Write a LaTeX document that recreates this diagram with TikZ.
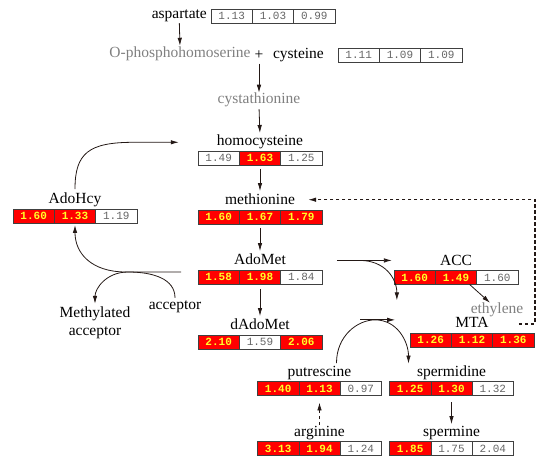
\documentclass[tikz,border=0pt]{standalone}
\usepackage{fontspec}
\setmainfont{Liberation Serif}
\newfontfamily\valfont{Liberation Mono}
\usetikzlibrary{arrows.meta,positioning}
\definecolor{pathred}{RGB}{255,0,0}
\definecolor{valyel}{RGB}{255,255,40}
\definecolor{arrdark}{RGB}{35,24,21}
\definecolor{labgray}{RGB}{128,128,128}
\tikzset{
  lbl/.style={inner sep=0pt, font=\fontsize{15.5}{18}\selectfont},
  tag/.style={lbl, anchor=base},
  glbl/.style={lbl, text=labgray},
  cell/.style={draw=black!75, minimum width=41.3pt, minimum height=14pt,
               inner sep=0pt, outer sep=0pt},
  up/.style={cell, fill=pathred, text=valyel,
             font=\valfont\bfseries\fontsize{11}{11}\selectfont},
  nc/.style={cell, fill=white, text=black!60,
             font=\valfont\fontsize{11}{11}\selectfont},
  rxn/.style={-{Latex[length=8pt,width=4.5pt]}, arrdark, line width=0.8pt},
  feedback/.style={rxn, dash pattern=on 3.5pt off 2.5pt, line width=1.1pt},
}
% three fold-change cells, #2 = centre of the middle cell
\newcommand\valrow[8]{%
  \node[#5] (#1-2) at (#2) {#6};
  \node[#3, left=0pt of #1-2] (#1-1) {#4};
  \node[#7, right=0pt of #1-2] (#1-3) {#8};
}
\begin{document}
\begin{tikzpicture}[x=1pt,y=-1pt]
  \useasboundingbox (0,0) rectangle (550,468);

  % value boxes
  \valrow{asp}{273,16}{nc}{1.13}{nc}{1.03}{nc}{0.99}
  \valrow{cys}{400,55}{nc}{1.11}{nc}{1.09}{nc}{1.09}
  \valrow{hcy}{260,158}{nc}{1.49}{up}{1.63}{nc}{1.25}
  \valrow{met}{260,217}{up}{1.60}{up}{1.67}{up}{1.79}
  \valrow{ahc}{75,216}{up}{1.60}{up}{1.33}{nc}{1.19}
  \valrow{sam}{260,277}{up}{1.58}{up}{1.98}{nc}{1.84}
  \valrow{dsam}{260,342}{up}{2.10}{nc}{1.59}{up}{2.06}
  \valrow{acc}{456,277.5}{up}{1.60}{up}{1.49}{nc}{1.60}
  \valrow{mta}{472,340}{up}{1.26}{up}{1.12}{up}{1.36}
  \valrow{put}{319.5,388.5}{up}{1.40}{up}{1.13}{nc}{0.97}
  \valrow{spd}{451.5,388.5}{up}{1.25}{up}{1.30}{nc}{1.32}
  \valrow{arg}{319.5,448.5}{up}{3.13}{up}{1.94}{nc}{1.24}
  \valrow{spm}{451.5,448.5}{up}{1.85}{nc}{1.75}{nc}{2.04}

  % metabolite names
  \node[lbl, left=4pt of asp-1] (asp) {aspartate};
  \node[glbl] (ophs) at (180,54) {O-phosphohomoserine};
  \node[lbl] (plus) at (259,55) {+};
  \node[lbl, left=14pt of cys-1] (cys) {cysteine};
  \node[glbl] (cth) at (259,100) {cystathionine};
  \node[tag] (hcy) at ([yshift=5pt]hcy-2.north) {homocysteine};
  \node[tag] (met) at ([yshift=5pt]met-2.north) {methionine};
  \node[tag] (ahc) at ([yshift=5pt]ahc-2.north) {AdoHcy};
  \node[tag] (sam) at ([yshift=5pt]sam-2.north) {AdoMet};
  \node[tag] (dsam) at ([yshift=5pt]dsam-2.north) {dAdoMet};
  \node[tag] (acc) at ([yshift=5pt]acc-2.north) {ACC};
  \node[tag] (mta) at ([yshift=5pt]mta-2.north) {MTA};
  \node[glbl] (eth) at (497,310) {ethylene};
  \node[tag] (put) at ([yshift=5pt]put-2.north) {putrescine};
  \node[tag] (spd) at ([yshift=5pt]spd-2.north) {spermidine};
  \node[tag] (arg) at ([yshift=5pt]arg-2.north) {arginine};
  \node[tag] (spm) at ([yshift=5pt]spm-2.north) {spermine};
  \node[lbl, align=center] (macc) at (95,323) {Methylated\\acceptor};
  \node[lbl] (acpt) at (175,307) {acceptor};

  % turning points of the side reactions
  \coordinate (hcyin) at ([xshift=-38pt]hcy.west);
  \coordinate (samout) at ([xshift=-17pt,yshift=5pt]sam-1.west);
  \coordinate (samr) at ([xshift=-48pt]acc.west);
  \coordinate (spdin) at ([xshift=-60pt,yshift=3pt]mta.west);

  % main route
  \draw[rxn, shorten <=1pt, shorten >=1pt] (asp.south) -- (ophs.north);
  \draw[rxn, shorten <=4pt] (plus.south) -- (cth.north);
  \draw[rxn, shorten <=2pt, shorten >=2pt] (cth.south) -- (hcy.north);
  \draw[rxn, shorten <=4pt, shorten >=3pt] (hcy-2.south) -- (met.north);
  \draw[rxn, shorten <=4pt, shorten >=3pt] (met-2.south) -- (sam.north);
  \draw[rxn, shorten <=5pt, shorten >=3pt] (sam-2.south) -- (dsam.north);
  \draw[rxn, shorten <=7pt, shorten >=2pt] (spd-2.south) -- (spm.north);
  \draw[rxn, dashed, shorten <=1pt, shorten >=7pt] (arg.north) -- (put-2.south);

  % methyl cycle
  \draw[rxn, shorten <=4pt] (ahc.north) .. controls +(0,-40) and +(-45,0)
    .. ([xshift=-45pt]hcyin) -- (hcyin);
  \draw[rxn, shorten >=2pt] (samout) -- ++(-55,0) .. controls +(-35,0) and +(0,30)
    .. (ahc-2.south);
  \draw[rxn, shorten <=3pt, shorten >=3pt] (acpt.north) .. controls +(0,-22) and +(25,0)
    .. ([xshift=-53pt]samout) .. controls +(-22,0) and +(0,-18) .. (macc.north);

  % ACC and MTA branch
  \draw[rxn] ([xshift=-55pt]samr) -- (samr);
  \draw[rxn] ([xshift=-32pt]samr) .. controls +(25,0) and +(0,-22) .. ++(37,40);
  \draw[rxn] ([xshift=-7pt]acc-2.south east) -- ([xshift=-7pt]eth.north);
  \draw[feedback] ([xshift=-15pt,yshift=9pt]mta-3.north east) -- ++(16,0)
    |- ([xshift=13pt]met.east);

  % spermidine synthesis
  \draw[rxn] ([xshift=-35pt]spdin) -- (spdin);
  \draw[rxn, shorten <=3pt, shorten >=2pt] ([xshift=17pt]put.north)
    .. controls +(0,-30) and +(-18,0) .. ([xshift=-20pt]spdin)
    .. controls +(22,0) and +(0,-24) .. ([xshift=-43pt]spd.north);
\end{tikzpicture}
\end{document}
